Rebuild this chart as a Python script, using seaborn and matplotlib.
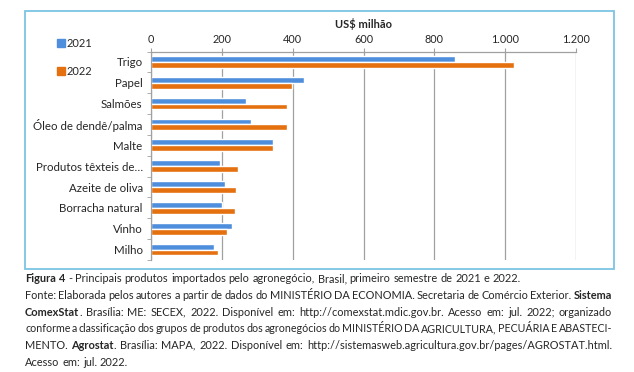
import numpy as np
import pandas as pd
import matplotlib
matplotlib.use('Agg')
import matplotlib.pyplot as plt
import seaborn as sns
from matplotlib import font_manager
from matplotlib.patches import Rectangle, Patch
from matplotlib.ticker import FuncFormatter, FixedLocator

products = ['Trigo', 'Papel', 'Salmões', 'Óleo de dendê/palma', 'Malte',
            'Produtos têxteis de…', 'Azeite de oliva', 'Borracha natural',
            'Vinho', 'Milho']
values_2021 = [857, 433, 268, 283, 344, 194, 210, 201, 228, 177]
values_2022 = [1026, 398, 385, 385, 344, 246, 239, 236, 215, 188]
years = ['2021', '2022']
x_ticks = [0, 200, 400, 600, 800, 1000, 1200]

caption = [
    '**Figura 4** - Principais produtos importados pelo agronegócio, Brasil, primeiro semestre de 2021 e 2022.',
    'Fonte: Elaborada pelos autores a partir de dados do MINISTÉRIO DA ECONOMIA. Secretaria de Comércio Exterior. **Sistema**',
    '**ComexStat**. Brasília: ME: SECEX, 2022. Disponível em: http://comexstat.mdic.gov.br. Acesso em: jul. 2022; organizado',
    'conforme a classificação dos grupos de produtos dos agronegócios do MINISTÉRIO DA AGRICULTURA, PECUÁRIA E ABASTECI-',
    'MENTO. **Agrostat**. Brasília: MAPA, 2022. Disponível em: http://sistemasweb.agricultura.gov.br/pages/AGROSTAT.html.',
    'Acesso em: jul. 2022.',
]
justified = [False, True, True, True, True, False]

df = pd.DataFrame({
    'produto': products * 2,
    'ano': [years[0]] * len(products) + [years[1]] * len(products),
    'valor': values_2021 + values_2022,
})

blue = '#4F8EDC'
orange = '#E4700F'
gray = '#A0A0A0'

names = {f.name for f in font_manager.fontManager.ttflist}
font = next((n for n in ['DejaVu Sans Condensed', 'Liberation Sans Narrow', 'Lato']
             if n in names), 'DejaVu Sans')

sns.set_style('white')
plt.rcParams['font.family'] = [font, 'DejaVu Sans']

W, H = 634, 372
fig = plt.figure(figsize=(W / 100, H / 100), dpi=100)
ax = fig.add_axes([151 / W, 1 - 260 / H, (576 - 151) / W, (260 - 51.5) / H])

sns.barplot(data=df, y='produto', x='valor', hue='ano', palette=[blue, orange],
            width=0.56, orient='h', saturation=1, legend=False, ax=ax)

ax.set_xlim(0, 1200)
ax.set_ylim(9.5, -0.5)
ax.xaxis.tick_top()
ax.xaxis.set_label_position('top')
ax.set_xticks(x_ticks)
ax.xaxis.set_major_formatter(FuncFormatter(lambda v, p: f'{int(v):,}'.replace(',', '.')))
ax.set_xlabel('US$ milhão', fontsize=8, fontweight='bold', labelpad=4)
ax.set_ylabel('')
ax.tick_params(axis='x', length=3, color=gray, pad=2, labelsize=7.8)
ax.tick_params(axis='y', which='major', length=0, pad=6, labelsize=8.3)
ax.yaxis.set_minor_locator(FixedLocator(np.arange(-0.5, 10, 1)))
ax.tick_params(axis='y', which='minor', length=3, color=gray, left=True)
ax.grid(axis='x', color=gray, lw=0.9)
ax.set_axisbelow(True)
for s in ['right', 'bottom']:
    ax.spines[s].set_visible(False)
for s in ['left', 'top']:
    ax.spines[s].set_color(gray)
    ax.spines[s].set_linewidth(0.9)

handles = [Patch(color=blue, label=years[0]), Patch(color=orange, label=years[1])]
fig.legend(handles=handles, loc='upper left', bbox_to_anchor=(57 / W, 1 - 38 / H),
           frameon=False, fontsize=8, handlelength=0.7, handleheight=0.7,
           handletextpad=0.15, labelspacing=1.55, borderpad=0, borderaxespad=0)

fig.patches.append(Rectangle((25 / W, 1 - 269 / H), (614 - 25) / W, (269 - 11) / H,
                             transform=fig.transFigure, fill=False,
                             ec='#7CC4E4', lw=1.3))

# caption, laid out word by word so the lines can be justified
renderer = fig.canvas.get_renderer()


def text_width(s, bold, size):
    t = fig.text(0, 0, s, fontsize=size, fontweight='bold' if bold else 'normal')
    w = t.get_window_extent(renderer).width
    t.remove()
    return w


def parse(line):
    words = []
    bold = False
    for raw in line.split(' '):
        pieces = []
        for i, p in enumerate(raw.split('**')):
            if i > 0:
                bold = not bold
            if p:
                pieces.append((p, bold))
        words.append(pieces)
    return words


def line_widths(words, size):
    return [sum(text_width(p, b, size) for p, b in w) for w in words]


left, right = 25, 612
sp10 = text_width('a a', False, 10) - text_width('aa', False, 10)
parsed = [parse(line) for line in caption]
first = parsed[0]
base = 10 * 497 / (sum(line_widths(first, 10)) + (len(first) - 1) * sp10)

for i, words in enumerate(parsed):
    size = base
    if justified[i]:
        natural = sum(line_widths(words, 10)) + (len(words) - 1) * sp10 * 0.7
        size = min(base, 10 * (right - left) / natural)
    widths = line_widths(words, size)
    gap = text_width('a a', False, size) - text_width('aa', False, size)
    if justified[i]:
        gap = (right - left - sum(widths)) / (len(words) - 1)
    x = left
    y = 282.5 + 16.6 * i
    for w, ww in zip(words, widths):
        px = x
        for p, b in w:
            fig.text(px / W, 1 - y / H, p, fontsize=size,
                     fontweight='bold' if b else 'normal', va='baseline')
            px += text_width(p, b, size)
        x += ww + gap

fig.savefig('out.png', dpi=100)
